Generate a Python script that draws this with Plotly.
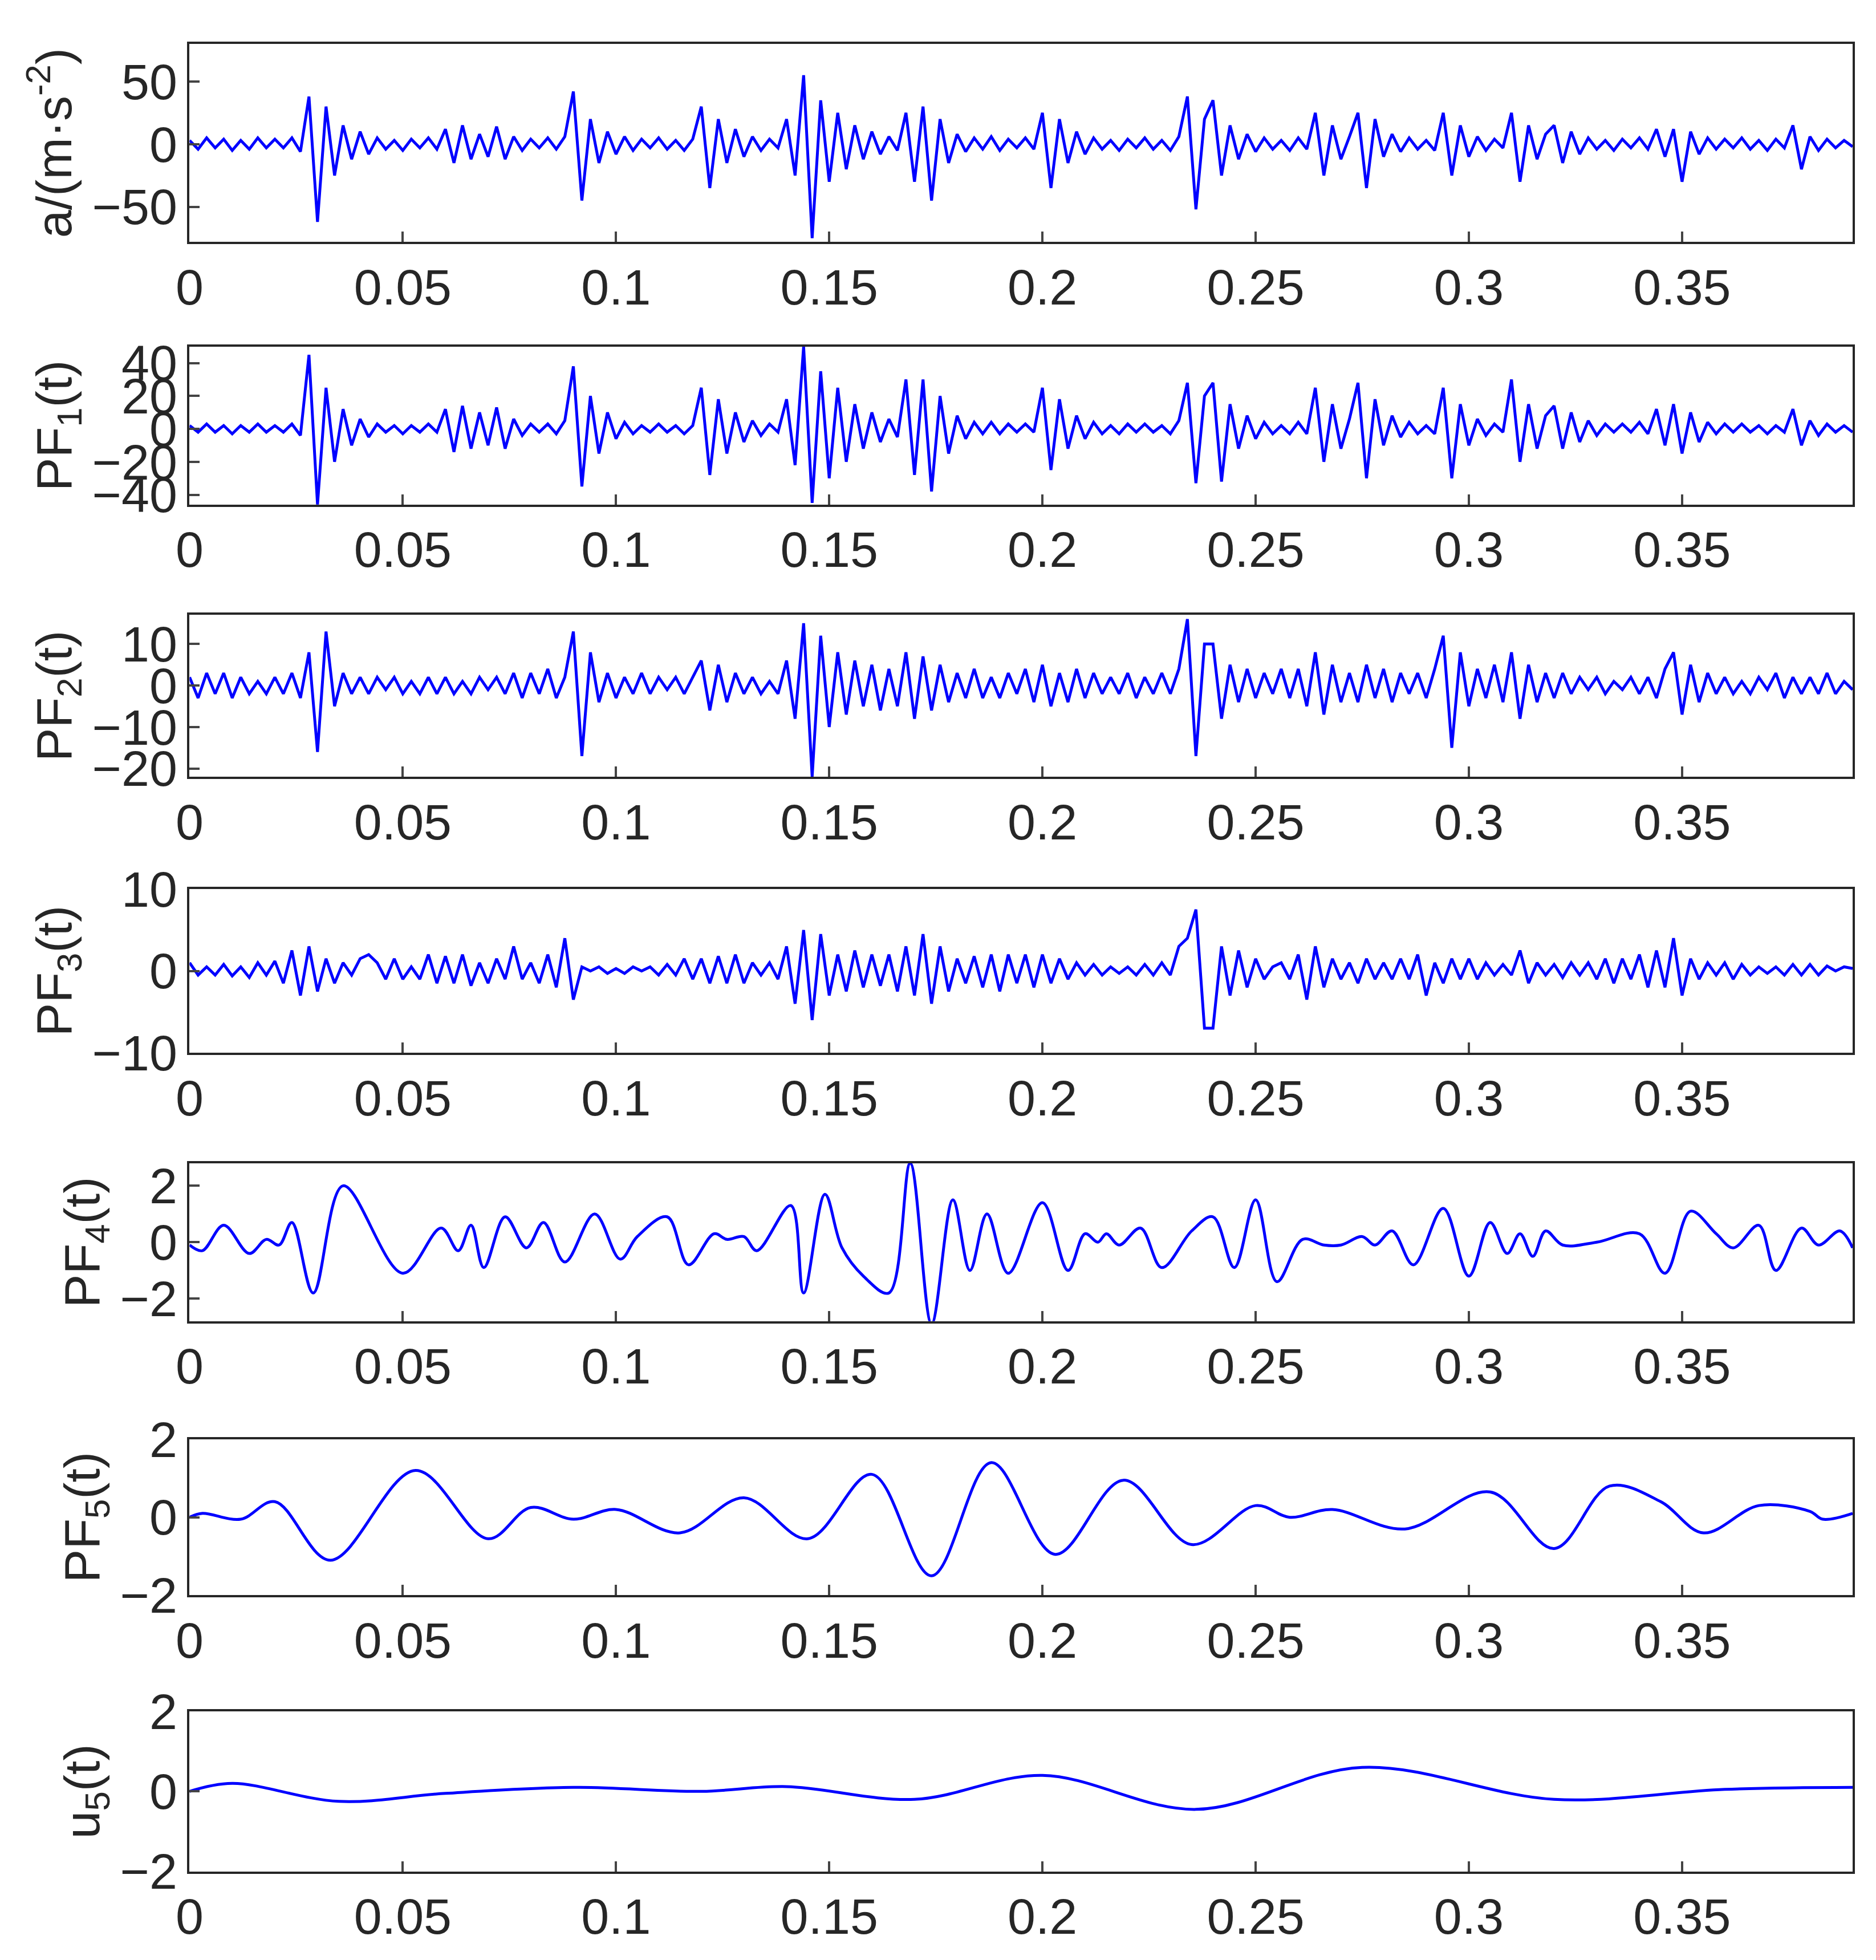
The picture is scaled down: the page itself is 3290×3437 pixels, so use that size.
import plotly.graph_objects as go

# ---- data ----
a_vals = [3,-4,5,-3,4,-5,3,-4,5,-3,
 4,-3,5,-6,38,-62,30,-25,15,-12,
 10,-8,5,-4,3,-5,4,-3,5,-4,
 12,-15,15,-12,8,-10,14,-12,6,-5,
 4,-3,5,-4,6,42,-45,20,-15,10,
 -8,6,-5,4,-3,5,-4,3,-5,4,
 30,-35,20,-15,12,-10,6,-5,4,-3,
 20,-25,55,-75,35,-30,25,-20,15,-12,
 10,-8,6,-5,25,-30,30,-45,20,-15,
 8,-6,5,-4,6,-5,4,-3,5,-4,
 25,-35,20,-15,10,-8,5,-4,3,-5,
 4,-3,5,-4,3,-5,6,38,-52,20,
 35,-25,15,-12,8,-6,5,-4,3,-5,
 5,-4,25,-25,15,-12,6,25,-35,20,
 -10,8,-6,5,-4,3,-5,25,-25,15,
 -10,6,-5,4,-3,25,-30,15,-12,8,
 15,-15,10,-8,5,-4,3,-5,4,-3,
 5,-4,12,-10,12,-30,10,-8,5,-4,
 4,-3,5,-4,3,-5,4,-3,15,-20,
 6,-5,4,-3,3,-2]

pf1_vals = [2,-2,3,-2,2,-3,2,-2,3,-2,
 2,-2,3,-4,45,-46,25,-20,12,-10,
 6,-5,3,-2,2,-3,2,-2,3,-2,
 12,-14,14,-12,10,-10,13,-12,6,-4,
 3,-2,3,-3,5,38,-35,20,-15,10,
 -6,4,-3,2,-2,3,-2,2,-3,2,
 25,-28,18,-15,10,-8,5,-4,3,-2,
 18,-22,50,-45,35,-30,25,-20,15,-12,
 10,-8,6,-5,30,-28,30,-38,20,-15,
 8,-6,4,-3,4,-3,3,-2,3,-2,
 25,-25,18,-12,8,-6,4,-3,2,-3,
 3,-2,3,-2,2,-3,5,28,-33,20,
 28,-32,15,-12,8,-6,4,-3,2,-3,
 4,-3,25,-20,15,-12,6,28,-30,18,
 -10,8,-5,4,-3,2,-3,25,-30,15,
 -10,6,-4,3,-2,30,-20,15,-12,8,
 14,-12,10,-8,5,-4,3,-2,3,-2,
 4,-3,12,-10,15,-15,10,-8,4,-3,
 3,-2,3,-2,2,-3,2,-2,12,-10,
 5,-4,3,-2,2,-2]

pf2_vals = [2,-3,3,-2,3,-3,2,-2,1,-2,
 2,-2,3,-3,8,-16,13,-5,3,-2,
 2,-2,2,-1,2,-2,1,-2,2,-2,
 2,-2,1,-2,2,-1,2,-2,3,-3,
 3,-2,4,-3,2,13,-17,8,-4,3,
 -3,2,-2,3,-2,2,-1,2,-2,2,
 6,-6,5,-4,3,-2,2,-2,1,-2,
 6,-8,15,-22,12,-10,8,-7,6,-5,
 5,-6,4,-5,8,-8,7,-6,5,-4,
 3,-3,4,-3,2,-3,3,-2,4,-4,
 5,-5,3,-4,4,-3,3,-2,2,-2,
 3,-3,2,-2,3,-2,4,16,-17,10,
 10,-8,5,-4,4,-3,3,-2,4,-3,
 4,-5,8,-7,5,-4,3,-4,5,-3,
 4,-4,3,-2,3,-3,4,12,-15,8,
 -5,4,-3,5,-4,8,-8,5,-4,3,
 -3,3,-2,2,-1,2,-2,1,-1,2,
 -2,2,-3,4,8,-7,5,-4,3,-2,
 2,-2,1,-2,2,-1,3,-3,2,-2,
 2,-2,3,-2,1,-1]

pf3_vals = [1,-0.5,0.5,-0.5,0.8,-0.6,0.5,-0.8,1,-0.5,
 1.2,-1.5,2.5,-3,3,-2.5,1.5,-1.5,1,-0.5,
 1.5,2,1,-1,1.5,-1,0.5,-1,2,-1.5,
 1.8,-1.5,2,-1.8,1,-1.5,1.5,-1,3,-1,
 1,-1.5,2,-2,4,-3.5,0.5,0,0.5,-0.3,
 0.3,-0.3,0.5,0,0.5,-0.5,0.8,-0.5,1.5,-1,
 1.5,-1.5,1.8,-1.5,2,-1.5,1,-0.5,1,-1,
 3,-4,5,-6,4.5,-3,2,-2.5,2.5,-2,
 2,-1.8,2,-2.5,3,-3,4.5,-4,3,-2.5,
 1.5,-1.5,1.8,-2,2,-2.5,2,-1.5,2,-2,
 2,-1.5,1.5,-1,1,-0.5,0.8,-0.5,0.5,-0.3,
 0.5,-0.5,0.8,-0.5,1,-0.5,3,4,7.5,-7,
 -7,3,-3,2.5,-2,1.5,-1,0.5,1,-1,
 2,-3.5,3,-2,1.5,-1,1,-1.5,1.5,-1,
 1,-1,1.5,-1,2,-3,1,-1.5,1.5,-1,
 1.5,-1,1,-0.5,0.8,-0.5,2.5,-1.5,1,-0.5,
 0.8,-0.8,1,-0.5,1,-1,1.5,-1.5,1.5,-1,
 2,-2,2.5,-2,4,-3,1.5,-1,1,-0.5,
 1,-1,0.8,-0.5,0.5,-0.3,0.5,-0.5,0.8,-0.5,
 0.8,-0.5,0.6,0,0.5,0.3]

pf4_t = [0,0.003,0.008,0.014,0.018,0.021,0.024,0.029,0.036,0.05,0.059,0.063,0.066,0.069,0.074,0.079,0.083,0.088,0.095,0.101,0.105,0.112,0.117,0.123,0.126,0.13,0.133,0.141,0.144,0.149,0.153,0.158,0.164,0.169,0.174,0.179,0.183,0.187,0.192,0.2,0.206,0.21,0.213,0.215,0.218,0.223,0.228,0.235,0.24,0.245,0.25,0.255,0.261,0.266,0.27,0.275,0.278,0.282,0.287,0.294,0.3,0.305,0.309,0.312,0.315,0.318,0.322,0.33,0.34,0.346,0.352,0.358,0.362,0.368,0.372,0.378,0.382,0.387,0.39]
pf4_v = [-0.1,-0.3,0.6,-0.4,0.1,-0.1,0.7,-1.8,2.0,-1.1,0.5,-0.3,0.6,-0.9,0.9,-0.2,0.7,-0.7,1.0,-0.6,0.2,0.9,-0.8,0.3,0.1,0.2,-0.3,1.3,-1.8,1.7,-0.2,-1.2,-1.8,2.8,-2.9,1.5,-1.0,1.0,-1.1,1.4,-1.0,0.3,0,0.3,-0.1,0.5,-0.9,0.4,0.9,-0.9,1.5,-1.4,0.1,-0.1,-0.1,0.2,-0.1,0.4,-0.8,1.2,-1.2,0.7,-0.4,0.3,-0.5,0.4,-0.1,0,0.3,-1.1,1.1,0.3,-0.2,0.6,-1.0,0.5,-0.1,0.4,-0.2]

pf5_t = [0,0.003,0.012,0.02,0.033,0.053,0.07,0.08,0.09,0.1,0.115,0.13,0.145,0.16,0.174,0.188,0.203,0.219,0.235,0.25,0.258,0.268,0.285,0.305,0.32,0.333,0.345,0.355,0.368,0.38,0.383,0.39]
pf5_v = [0,0.1,-0.05,0.4,-1.1,1.2,-0.55,0.25,-0.05,0.2,-0.4,0.5,-0.55,1.1,-1.5,1.4,-0.95,0.95,-0.7,0.3,0,0.2,-0.3,0.65,-0.8,0.8,0.4,-0.4,0.3,0.15,-0.05,0.1]

u5_t = [0,0.01,0.035,0.06,0.09,0.12,0.14,0.17,0.2,0.236,0.275,0.32,0.36,0.39]
u5_v = [0,0.2,-0.25,-0.05,0.1,0,0.12,-0.2,0.4,-0.45,0.6,-0.2,0.05,0.1]

x_ticks = [0,0.05,0.1,0.15,0.2,0.25,0.3,0.35]
x_labels = ["0","0.05","0.1","0.15","0.2","0.25","0.3","0.35"]

def tgrid(vals):
    return [round(0.002*i, 4) for i in range(len(vals))]

panels = [
    (tgrid(a_vals), a_vals, "linear", "a/(m·s<sup>-2</sup>)", [-78, 80], [-50,0,50]),
    (tgrid(pf1_vals), pf1_vals, "linear", "PF<sub>1</sub>(t)", [-46, 50], [-40,-20,0,20,40]),
    (tgrid(pf2_vals), pf2_vals, "linear", "PF<sub>2</sub>(t)", [-22, 17], [-20,-10,0,10]),
    (tgrid(pf3_vals), pf3_vals, "linear", "PF<sub>3</sub>(t)", [-10, 10], [-10,0,10]),
    (pf4_t, pf4_v, "spline", "PF<sub>4</sub>(t)", [-2.8, 2.8], [-2,0,2]),
    (pf5_t, pf5_v, "spline", "PF<sub>5</sub>(t)", [-2, 2], [-2,0,2]),
    (u5_t, u5_v, "spline", "u<sub>5</sub>(t)", [-2, 2], [-2,0,2]),
]
domains = [(0.890,0.994),(0.752,0.835),(0.609,0.694),(0.464,0.550),(0.323,0.406),(0.179,0.261),(0.034,0.118)]

fig = go.Figure()
font = dict(family="Liberation Sans, Arial", size=88, color="#262626")
for i,(t,v,shape,title,yr,yt) in enumerate(panels):
    n = "" if i == 0 else str(i+1)
    fig.add_trace(go.Scatter(x=t, y=v, mode="lines", xaxis="x"+n, yaxis="y"+n,
                             line=dict(color="#0000ff", width=5, shape=shape), showlegend=False))
    fig.layout["xaxis"+n] = dict(domain=[0.092,0.985], range=[0,0.39], anchor="y"+n,
        tickvals=x_ticks, ticktext=x_labels, ticks="inside", ticklen=18, tickwidth=4,
        showline=True, linewidth=4, linecolor="#262626", mirror=True, showgrid=False,
        zeroline=False, tickfont=font)
    fig.layout["yaxis"+n] = dict(domain=list(domains[i]), range=yr, anchor="x"+n,
        tickvals=yt, ticks="inside", ticklen=18, tickwidth=4,
        showline=True, linewidth=4, linecolor="#262626", mirror=True, showgrid=False,
        zeroline=False, tickfont=font, title=dict(text=title, font=font, standoff=8))

fig.update_layout(width=3290, height=3437, margin=dict(l=0,r=0,t=0,b=0),
                  plot_bgcolor="white", paper_bgcolor="white")
fig.write_html("out.html")
